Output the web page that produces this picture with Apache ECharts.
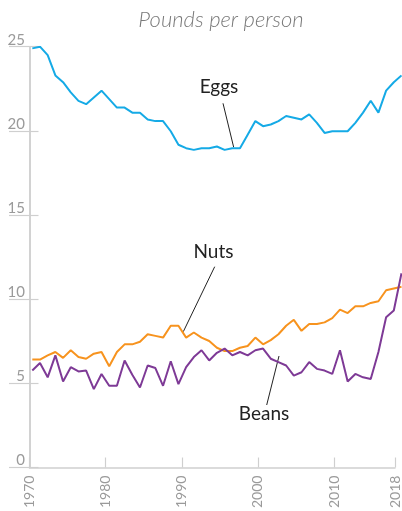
<!DOCTYPE html>
<html>
<head>
<meta charset="utf-8">
<script src="https://cdn.jsdelivr.net/npm/echarts@6/dist/echarts.min.js"></script>
<style>
  html, body { margin: 0; padding: 0; background: #fff; }
  #chart { width: 402px; height: 511px; }
</style>
</head>
<body>
<div id="chart"></div>
<script>
const years = [];
for (let y = 1970; y <= 2018; y++) years.push(String(y));

const eggs = [24.9, 25.0, 24.5, 23.3, 22.9, 22.3, 21.8, 21.6, 22.0, 22.4,
  21.9, 21.4, 21.4, 21.1, 21.1, 20.7, 20.6, 20.6, 20.0, 19.2,
  19.0, 18.9, 19.0, 19.0, 19.1, 18.9, 19.0, 19.0, 19.8, 20.6,
  20.3, 20.4, 20.6, 20.9, 20.8, 20.7, 21.0, 20.5, 19.9, 20.0,
  20.0, 20.0, 20.5, 21.1, 21.8, 21.1, 22.4, 22.9, 23.3];

const nuts = [6.5, 6.5, 6.75, 6.95, 6.6, 7.05, 6.65, 6.55, 6.85, 6.95,
  6.1, 6.95, 7.4, 7.4, 7.55, 8.0, 7.9, 7.8, 8.5, 8.5,
  7.8, 8.1, 7.8, 7.6, 7.2, 7.0, 7.0, 7.2, 7.3, 7.8,
  7.4, 7.65, 8.0, 8.5, 8.85, 8.2, 8.6, 8.6, 8.7, 8.95,
  9.45, 9.25, 9.65, 9.65, 9.85, 9.95, 10.6, 10.7, 10.8];

const beans = [5.85, 6.3, 5.45, 6.75, 5.2, 6.05, 5.8, 5.85, 4.75, 5.65,
  4.95, 4.95, 6.45, 5.6, 4.85, 6.15, 6.0, 4.95, 6.4, 5.05,
  6.05, 6.65, 7.05, 6.45, 6.9, 7.15, 6.75, 6.95, 6.75, 7.05,
  7.15, 6.55, 6.35, 6.15, 5.55, 5.75, 6.35, 5.95, 5.85, 5.65,
  7.05, 5.2, 5.65, 5.45, 5.35, 6.95, 9.0, 9.4, 11.6];

const labeledYears = ['1970', '1980', '1990', '2000', '2010', '2018'];
const seriesNames = ['Eggs', 'Nuts', 'Beans'];
const titleText = 'Pounds per person';

const showIdx = (i) => labeledYears.indexOf(years[i]) >= 0;
const axisGray = '#cfcfcf';
const labelGray = '#9a9a9a';
const FONT = 'Lato, "Open Sans", sans-serif';

const chart = echarts.init(document.getElementById('chart'), null, { renderer: 'canvas' });

const yBase = { type: 'value', min: 0, max: 25, interval: 5, splitLine: { show: false } };

chart.setOption({
  animation: false,
  backgroundColor: '#fff',
  grid: [
    { left: 29.5, right: 4.3, top: 46.7, bottom: 41.5 },
    { left: 32.3, right: 0.5, top: 46.7, bottom: 41.5 }
  ],
  xAxis: [
    {
      gridIndex: 0, type: 'category', data: years, boundaryGap: false,
      axisLine: { lineStyle: { color: axisGray, width: 1.5 } },
      axisTick: { inside: true, length: 10, interval: showIdx, lineStyle: { color: axisGray, width: 1.2 } },
      axisLabel: { interval: showIdx, rotate: 90, margin: 8, color: labelGray, fontSize: 14, fontFamily: FONT }
    },
    { gridIndex: 1, type: 'category', data: years, boundaryGap: false, show: false }
  ],
  yAxis: [
    Object.assign({}, yBase, {
      gridIndex: 0, position: 'left',
      axisLine: { show: true, lineStyle: { color: axisGray, width: 1.5 } },
      axisTick: { show: true, inside: false, length: 20.5, lineStyle: { color: axisGray, width: 1.2 } },
      axisLabel: { align: 'right', verticalAlign: 'bottom', margin: 4.5, color: labelGray, fontSize: 15, fontFamily: FONT, lineHeight: 14 }
    }),
    Object.assign({}, yBase, {
      gridIndex: 0, position: 'left', offset: 0,
      axisLine: { show: true, lineStyle: { color: axisGray, width: 1.5 } },
      axisTick: { show: true, inside: true, length: 9, lineStyle: { color: axisGray, width: 1.2 } },
      axisLabel: { show: false }
    }),
    Object.assign({}, yBase, { gridIndex: 1, show: false })
  ],
  series: [
    { name: seriesNames[0], type: 'line', xAxisIndex: 1, yAxisIndex: 2, data: eggs, showSymbol: false,
      lineStyle: { color: '#15AAE6', width: 2 } },
    { name: seriesNames[1], type: 'line', xAxisIndex: 1, yAxisIndex: 2, data: nuts, showSymbol: false,
      lineStyle: { color: '#F7931E', width: 2 } },
    { name: seriesNames[2], type: 'line', xAxisIndex: 1, yAxisIndex: 2, data: beans, showSymbol: false,
      lineStyle: { color: '#7E3A96', width: 2 } }
  ],
  graphic: [
    { type: 'text', x: 221, y: 20, style: { text: titleText, font: 'italic 300 22px ' + FONT, fill: '#7a7a7a', textAlign: 'center', textVerticalAlign: 'middle' } },
    { type: 'text', x: 219, y: 87, style: { text: seriesNames[0], font: '19px ' + FONT, fill: '#222', textAlign: 'center', textVerticalAlign: 'middle' } },
    { type: 'text', x: 213.5, y: 252, style: { text: seriesNames[1], font: '19px ' + FONT, fill: '#222', textAlign: 'center', textVerticalAlign: 'middle' } },
    { type: 'text', x: 264, y: 414, style: { text: seriesNames[2], font: '19px ' + FONT, fill: '#222', textAlign: 'center', textVerticalAlign: 'middle' } },
    { type: 'line', shape: { x1: 223, y1: 103.3, x2: 233.7, y2: 147.3 }, style: { stroke: '#222', lineWidth: 1 } },
    { type: 'line', shape: { x1: 214.7, y1: 266.7, x2: 183.3, y2: 331.7 }, style: { stroke: '#222', lineWidth: 1 } },
    { type: 'line', shape: { x1: 279, y1: 356, x2: 266.7, y2: 405 }, style: { stroke: '#222', lineWidth: 1 } }
  ]
});
</script>
</body>
</html>
